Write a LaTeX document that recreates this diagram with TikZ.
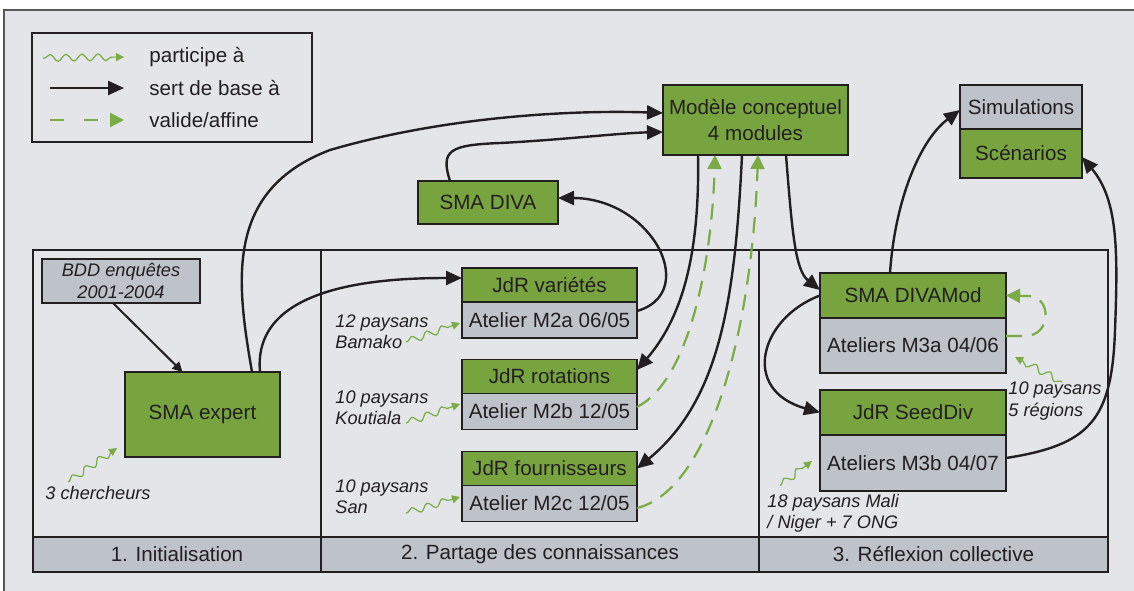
\documentclass[tikz,border=0pt]{standalone}
\usepackage{fontspec}
\setmainfont{Liberation Sans}
\usetikzlibrary{arrows.meta, positioning, decorations.pathmorphing}

\definecolor{grn}{HTML}{78A440}
\definecolor{lgrn}{HTML}{7AAB45}
\definecolor{gbx}{HTML}{BEC2C9}
\definecolor{bgc}{HTML}{E3E5E9}
\definecolor{ink}{HTML}{231F20}
\newcommand{\boxfont}{\fontsize{10.3}{12.6}\selectfont}
\newcommand{\notefont}{\fontsize{9.1}{10.6}\selectfont\itshape}

\begin{document}
\begin{tikzpicture}[
  x=0.5pt, y=-0.5pt,
  gbox/.style={draw=ink, fill=grn, line width=0.75pt, outer sep=0pt, inner sep=1pt,
               font=\boxfont, text=ink, align=center},
  sbox/.style={gbox, fill=gbx},
  phase/.style={sbox, minimum height=17.5pt},
  note/.style={font=\notefont, text=ink, align=left, inner sep=0pt, anchor=west},
  leg/.style={font=\boxfont, text=ink, inner sep=0pt, anchor=west},
  arr/.style={-{Triangle[length=8pt, width=7pt]}, line width=1.2pt, draw=ink},
  val/.style={-{Triangle[length=7pt, width=7pt]}, line width=1.1pt, draw=lgrn,
              dash pattern=on 8pt off 5pt},
  part/.style={-{Triangle[length=4pt, width=4pt]}, line width=0.6pt, draw=lgrn, decorate,
               decoration={snake, amplitude=1.7pt, segment length=8pt, pre length=1pt, post length=3pt}}
]
\useasboundingbox (0,0) rectangle (1134,590);
\draw[fill=bgc, draw=ink!75, line width=0.75pt] (4,10) rectangle (1150,610);

% legend
\draw[draw=ink, line width=0.75pt] (32,33) rectangle (312,142);
\coordinate (lgA1) at (43,58);  \coordinate (lgA2) at (124,57);
\coordinate (lgB1) at (50,88);  \coordinate (lgB2) at (124,88);
\coordinate (lgC1) at (50,120); \coordinate (lgC2) at (124,120);
\draw[part] (lgA1) -- (lgA2);
\draw[arr] (lgB1) -- (lgB2);
\draw[val, dash pattern=on 7pt off 10pt] (lgC1) -- (lgC2);
\node[leg] (lgtA) at (149,57) {participe à};
\node[leg] (lgtB) at (149,88) {sert de base à};
\node[leg] (lgtC) at (149,120) {valide/affine};

% phases
\node[phase, minimum width=144pt] (ph1) at (177,554.5) {1. Initialisation};
\node[phase, minimum width=219pt, right=0pt of ph1] (ph2) {2. Partage des connaissances};
\node[phase, minimum width=174.5pt, right=0pt of ph2] (ph3) {3. Réflexion collective};
\draw[draw=ink, line width=0.75pt] (ph1.north west) -- (33,250) -- (1108,250) -- (ph3.north east);
\draw[draw=ink, line width=0.75pt] (ph1.north east) -- (321,250);
\draw[draw=ink, line width=0.75pt] (ph2.north east) -- (759,250);

% boxes
\node[sbox, font=\notefont, minimum width=79pt, minimum height=22pt] (bdd) at (121,281) {BDD enquêtes\\2001-2004};
\node[gbox, minimum width=77.5pt, minimum height=42.5pt] (expert) at (202.5,414.5) {SMA expert};
\node[gbox, minimum width=70pt, minimum height=21.5pt] (diva) at (488,202.5) {SMA DIVA};
\node[gbox, minimum width=92.5pt, minimum height=35pt] (modele) at (755.5,120) {Modèle conceptuel\\4 modules};

\node[gbox, minimum width=87.5pt, minimum height=17pt] (var) at (549.5,285) {JdR variétés};
\node[sbox, minimum width=87.5pt, minimum height=18pt, below=0pt of var] (m2a) {Atelier M2a 06/05};
\node[gbox, minimum width=87.5pt, minimum height=17pt] (rot) at (549.5,376.5) {JdR rotations};
\node[sbox, minimum width=87.5pt, minimum height=18pt, below=0pt of rot] (m2b) {Atelier M2b 12/05};
\node[gbox, minimum width=87.5pt, minimum height=17pt] (four) at (549.5,468.5) {JdR fournisseurs};
\node[sbox, minimum width=87.5pt, minimum height=18pt, below=0pt of four] (m2c) {Atelier M2c 12/05};

\node[gbox, minimum width=93pt, minimum height=22.5pt] (dmod) at (913,295.5) {SMA DIVAMod};
\node[sbox, minimum width=93pt, minimum height=27.5pt, below=0pt of dmod] (m3a) {Ateliers M3a 04/06};
\node[gbox, minimum width=93pt, minimum height=22.5pt] (seed) at (913,412.5) {JdR SeedDiv};
\node[sbox, minimum width=93pt, minimum height=28pt, below=0pt of seed] (m3b) {Ateliers M3b 04/07};

\node[sbox, minimum width=61pt, minimum height=22pt] (sim) at (1021,107) {Simulations};
\node[gbox, minimum width=61pt, minimum height=24.5pt, below=0pt of sim] (scen) {Scénarios};

% participants
\node[note] (nch) at (45,493) {3 chercheurs};
\node[note] (nbam) at (335,332) {12 paysans\\Bamako};
\node[note] (nkou) at (335,407.5) {10 paysans\\Koutiala};
\node[note] (nsan) at (335,497) {10 paysans\\San};
\node[note] (nreg) at (1008,401) {10 paysans\\5 régions};
\node[note] (nmali) at (767,513) {18 paysans Mali\\/ Niger + 7 ONG};

% sert de base
\draw[arr, -{Triangle[length=5pt, width=5pt]}, line width=1pt] ([xshift=-4pt]bdd.south) -- ([xshift=-10pt]expert.north);
\draw[arr] ([xshift=24.75pt]expert.north) .. controls (236,280) and (225,190) .. (330,150)
      .. controls (450,115) and (580,110) .. ([yshift=3.5pt]modele.west);
\draw[arr] ([xshift=28.75pt]expert.north) .. controls (252,285) and (380,278) .. ([yshift=3.5pt]var.west);
\draw[arr] ([xshift=-19pt]diva.north) .. controls (440,150) and (450,145) .. (500,143)
      .. controls (560,140) and (620,133) .. ([yshift=-6pt]modele.west);
\draw[arr] ([yshift=4.5pt]m2a.east) .. controls (675,300) and (672,262) .. (650,235)
      .. controls (630,210) and (600,198) .. ([yshift=2.25pt]diva.east);
\draw[arr] ([xshift=-28.75pt]modele.south) .. controls (700,260) and (680,320) .. ([yshift=3.25pt]rot.east);
\draw[arr] ([xshift=-6.75pt]modele.south) .. controls (735,300) and (720,400) .. (four.east);
\draw[arr] ([xshift=15.25pt]modele.south) .. controls (792,230) and (795,270) .. ([yshift=2.75pt]dmod.west);
\draw[arr] (dmod.west) .. controls (760,318) and (740,390) .. (seed.west);
\draw[arr] ([yshift=2.5pt]m3b.east) .. controls (1090,445) and (1112,420) .. (1115,330)
      .. controls (1118,250) and (1118,200) .. ([yshift=-1.75pt]scen.east);
\draw[arr] ([xshift=-11.5pt]dmod.north) .. controls (895,200) and (920,140) .. ([yshift=-1.5pt]sim.west);

% valide / affine
\draw[val] ([yshift=2.25pt]m2b.east) .. controls (690,380) and (712,260) .. ([xshift=-20.25pt]modele.south);
\draw[val] ([yshift=-2.25pt]m2c.east) .. controls (710,490) and (752,330) .. ([xshift=1.25pt]modele.south);
\draw[val] ([yshift=4.75pt]m3a.east) -- (1025,336) .. controls (1052,336) and (1052,296) .. (1028,296) -- (dmod.east);

% participe
\draw[part] ([xshift=11.5pt,yshift=5.5pt]nch.west) -- ([xshift=-4pt,yshift=4.5pt]expert.south west);
\draw[part] ([xshift=-11.5pt,yshift=-5pt]nbam.east) -- ([xshift=-1pt,yshift=-1.5pt]m2a.west);
\draw[part] ([xshift=-11.5pt,yshift=-7.75pt]nkou.east) -- ([xshift=-1pt,yshift=3.75pt]m2b.west);
\draw[part] ([xshift=-11.5pt,yshift=-8pt]nsan.east) -- ([xshift=-1pt,yshift=3.25pt]m2c.west);
\draw[part] ([xshift=27pt,yshift=9.5pt]nreg.west) -- ([xshift=4.5pt,yshift=8pt]m3a.south east);
\draw[part] ([xshift=6.5pt,yshift=13.75pt]nmali.west) -- ([xshift=-4pt,yshift=1pt]m3b.west);
\end{tikzpicture}
\end{document}
